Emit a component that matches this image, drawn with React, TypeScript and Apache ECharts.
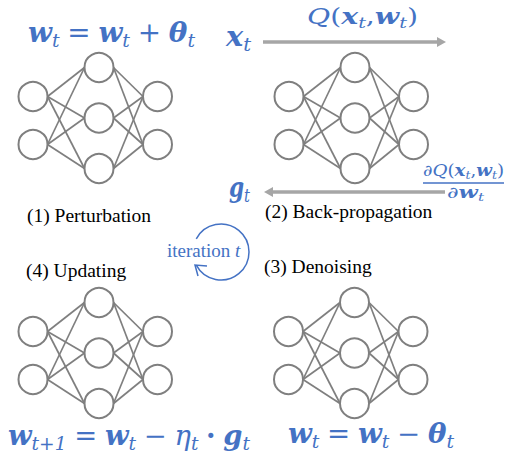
import React, { useEffect, useRef } from 'react';
import * as echarts from 'echarts';

// ---------- data ----------
const layerSizes = [2, 3, 2];
const stepLabels = ['(1) Perturbation', '(2) Back-propagation', '(3) Denoising', '(4) Updating'];
const iterationWord = 'iteration';
const iterationVar = 't';

type Tok = { t: string; f: string; sub?: boolean; op?: boolean };
const perturbFormula: Tok[] = [
  { t: 'w', f: 'bi' }, { t: 't', f: 'i', sub: true }, { t: '=', f: 'n', op: true },
  { t: 'w', f: 'bi' }, { t: 't', f: 'i', sub: true }, { t: '+', f: 'n', op: true },
  { t: 'θ', f: 'bi' }, { t: 't', f: 'i', sub: true },
];
const inputFormula: Tok[] = [{ t: 'x', f: 'bi' }, { t: 't', f: 'i', sub: true }];
const lossFormula: Tok[] = [
  { t: 'Q', f: 'i' }, { t: '(', f: 'n' }, { t: 'x', f: 'bi' }, { t: 't', f: 'i', sub: true },
  { t: ',', f: 'n' }, { t: 'w', f: 'bi' }, { t: 't', f: 'i', sub: true }, { t: ')', f: 'n' },
];
const gradFormula: Tok[] = [{ t: 'g', f: 'bi' }, { t: 't', f: 'i', sub: true }];
const gradNumerator: Tok[] = [
  { t: '∂', f: 'n' }, { t: 'Q', f: 'i' }, { t: '(', f: 'n' }, { t: 'x', f: 'bi' },
  { t: 't', f: 'i', sub: true }, { t: ',', f: 'n' }, { t: 'w', f: 'bi' },
  { t: 't', f: 'i', sub: true }, { t: ')', f: 'n' },
];
const gradDenominator: Tok[] = [{ t: '∂', f: 'n' }, { t: 'w', f: 'bi' }, { t: 't', f: 'i', sub: true }];
const updateFormula: Tok[] = [
  { t: 'w', f: 'bi' }, { t: 't+1', f: 'i', sub: true }, { t: '=', f: 'n', op: true },
  { t: 'w', f: 'bi' }, { t: 't', f: 'i', sub: true }, { t: '−', f: 'n', op: true },
  { t: 'η', f: 'i' }, { t: 't', f: 'i', sub: true }, { t: '·', f: 'b', op: true },
  { t: 'g', f: 'bi' }, { t: 't', f: 'i', sub: true },
];
const denoiseFormula: Tok[] = [
  { t: 'w', f: 'bi' }, { t: 't', f: 'i', sub: true }, { t: '=', f: 'n', op: true },
  { t: 'w', f: 'bi' }, { t: 't', f: 'i', sub: true }, { t: '−', f: 'n', op: true },
  { t: 'θ', f: 'bi' }, { t: 't', f: 'i', sub: true },
];

// ---------- styles / layout ----------
const BLUE = '#4472C4';
const NODE_GRAY = '#7F7F7F';
const ARROW_GRAY = '#A6A6A6';
const MATH = "'DejaVu Serif', serif";
const TEXTF = "'Liberation Serif', 'Times New Roman', Times, serif";

const NODE_R = 14.5;
const LAYER_DX = [0, 66, 124.5];
const LAYER_SPACING = [48, 50.5, 48];
const LAYER_DY = [2.5, 0, 2.5];

let measureCtx: CanvasRenderingContext2D | null = null;
function measure(text: string, font: string) {
  if (!measureCtx) measureCtx = document.createElement('canvas').getContext('2d');
  measureCtx!.font = font;
  return measureCtx!.measureText(text).width;
}
function fontOf(f: string, size: number, family: string) {
  return `${f.includes('i') ? 'italic ' : ''}${f.includes('b') ? 'bold ' : ''}${size}px ${family}`;
}

function formula(tokens: Tok[], x: number, baseline: number, size: number, width: number, fill: string) {
  const items = tokens.map((tok) => {
    const s = tok.sub ? size * 0.68 : size;
    const font = fontOf(tok.f, s, MATH);
    const gap = tok.op ? size * 0.28 : 0;
    const w = measure(tok.t, font);
    return { tok, s, font, w, gap };
  });
  const natural = items.reduce((a, it) => a + it.w + 2 * it.gap, 0);
  const sx = width / natural;
  let cx = x;
  const els: any[] = [];
  items.forEach((it) => {
    cx += it.gap * sx;
    const b = it.tok.sub ? baseline + size * 0.18 : baseline;
    els.push({
      type: 'text',
      x: cx,
      y: b - 0.35 * it.s,
      scaleX: sx,
      silent: true,
      style: {
        text: it.tok.t, x: 0, y: 0,
        fontFamily: MATH, fontSize: it.s,
        fontStyle: it.tok.f.includes('i') ? 'italic' : 'normal',
        fontWeight: it.tok.f.includes('b') ? 'bold' : 'normal',
        fill, textAlign: 'left', verticalAlign: 'middle',
      },
    });
    cx += (it.w + it.gap) * sx;
  });
  return els;
}

function network(x0: number, cy: number) {
  const layers = layerSizes.map((n, li) => {
    const pts: number[][] = [];
    for (let k = 0; k < n; k++) {
      pts.push([x0 + LAYER_DX[li], cy + LAYER_DY[li] + (k - (n - 1) / 2) * LAYER_SPACING[li]]);
    }
    return pts;
  });
  const els: any[] = [];
  for (let li = 0; li < layers.length - 1; li++) {
    layers[li].forEach((a) => {
      layers[li + 1].forEach((b) => {
        els.push({
          type: 'line',
          silent: true,
          shape: { x1: a[0] + NODE_R, y1: a[1], x2: b[0] - NODE_R, y2: b[1] },
          style: { stroke: NODE_GRAY, lineWidth: 1.7 },
        });
      });
    });
  }
  layers.forEach((pts) =>
    pts.forEach((p) => {
      els.push({
        type: 'circle',
        silent: true,
        shape: { cx: p[0], cy: p[1], r: NODE_R },
        style: { fill: '#fff', stroke: NODE_GRAY, lineWidth: 2 },
      });
    })
  );
  return els;
}

function label(text: string, x: number, baseline: number, size: number, fill: string, italic = false) {
  return {
    type: 'text',
    x,
    y: baseline - 0.34 * size,
    silent: true,
    style: {
      text,
      x: 0,
      y: 0,
      fontFamily: TEXTF,
      fontSize: size,
      fontStyle: italic ? 'italic' : 'normal',
      fontWeight: 'normal',
      fill,
      textAlign: 'left',
      verticalAlign: 'middle',
    },
  };
}

function buildElements() {
  const els: any[] = [];
  els.push(...network(33, 118));
  els.push(...network(289, 118));
  els.push(...network(33, 353));
  els.push(...network(288.5, 353));

  // forward arrow
  els.push({ type: 'line', silent: true, shape: { x1: 263, y1: 42, x2: 438, y2: 42 }, style: { stroke: ARROW_GRAY, lineWidth: 3.5 } });
  els.push({ type: 'polygon', silent: true, shape: { points: [[437, 37], [446, 42], [437, 47]] }, style: { fill: ARROW_GRAY } });
  // backward arrow
  els.push({ type: 'line', silent: true, shape: { x1: 272, y1: 192, x2: 445, y2: 192 }, style: { stroke: ARROW_GRAY, lineWidth: 3.5 } });
  els.push({ type: 'polygon', silent: true, shape: { points: [[273, 187], [264, 192], [273, 197]] }, style: { fill: ARROW_GRAY } });

  // formulas
  els.push(...formula(perturbFormula, 28, 42, 27, 167, BLUE));
  els.push(...formula(inputFormula, 226, 46, 27, 25, BLUE));
  els.push(...formula(lossFormula, 307, 24, 23, 111, BLUE));
  els.push(...formula(gradFormula, 229, 197, 27, 21, BLUE));
  els.push(...formula(gradNumerator, 423, 176, 16, 81, BLUE));
  els.push({ type: 'line', silent: true, shape: { x1: 423, y1: 183, x2: 504, y2: 183 }, style: { stroke: BLUE, lineWidth: 1.5 } });
  els.push(...formula(gradDenominator, 447, 198, 16, 37, BLUE));
  els.push(...formula(updateFormula, 8, 445, 27, 242, BLUE));
  els.push(...formula(denoiseFormula, 288, 443, 27, 166, BLUE));

  // step labels
  els.push(label(stepLabels[0], 27, 222, 19.5, '#000'));
  els.push(label(stepLabels[1], 265, 218, 19.5, '#000'));
  els.push(label(stepLabels[2], 264, 273, 19.5, '#000'));
  els.push(label(stepLabels[3], 26, 277, 19.5, '#000'));

  // iteration loop
  const itX = 167;
  els.push(label(iterationWord, itX, 257, 19, BLUE));
  const wWord = measure(iterationWord + ' ', `19px ${TEXTF}`);
  els.push(label(iterationVar, itX + wWord, 257, 19, BLUE, true));
  els.push({
    type: 'arc',
    silent: true,
    shape: { cx: 221, cy: 252, r: 28, startAngle: (208 * Math.PI) / 180, endAngle: (152 * Math.PI) / 180, clockwise: true },
    style: { stroke: BLUE, lineWidth: 1.5, fill: 'none' },
  });
  els.push({
    type: 'polyline',
    silent: true,
    shape: { points: [[207, 266], [195, 265], [198, 276]] },
    style: { stroke: BLUE, lineWidth: 1.5, fill: 'none' },
  });
  return els;
}

export default function App() {
  const ref = useRef<HTMLDivElement>(null);
  useEffect(() => {
    if (!ref.current) return;
    const chart = echarts.init(ref.current, undefined, { renderer: 'svg' });
    chart.setOption({
      animation: false,
      backgroundColor: '#fff',
      graphic: { elements: buildElements() },
    });
    return () => chart.dispose();
  }, []);
  return (
    <div
      ref={ref}
      style={{ position: 'fixed', left: 0, top: 0, width: 506, height: 459, background: '#fff' }}
    />
  );
}
